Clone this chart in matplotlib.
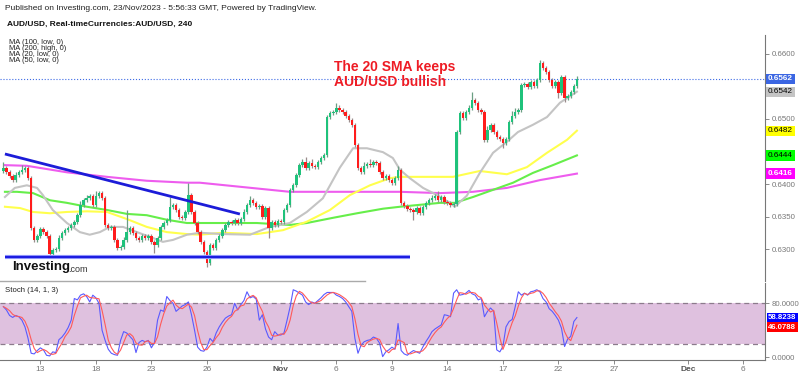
import numpy as np
import pandas as pd
import matplotlib
matplotlib.use("Agg")
import matplotlib.pyplot as plt
import matplotlib.transforms as mtransforms
from matplotlib.lines import Line2D

plt.rcParams['font.family'] = ['Liberation Sans', 'DejaVu Sans']

# AUD/USD 4h candles, Oct 11 -> Nov 23 2023, closes in pips (6425 = 0.6425)
first_open = 6420
closes = [
    6425, 6419, 6412, 6406, 6414, 6419,
    6422, 6425, 6409, 6332, 6314, 6320,
    6331, 6326, 6320, 6292, 6298, 6300,
    6317, 6325, 6329, 6332, 6337, 6342,
    6352, 6368, 6375, 6378, 6382, 6368,
    6382, 6386, 6378, 6337, 6332, 6334,
    6314, 6302, 6303, 6314, 6326, 6332,
    6325, 6317, 6314, 6320, 6317, 6320,
    6311, 6306, 6317, 6334, 6340, 6345,
    6365, 6368, 6360, 6349, 6348, 6357,
    6383, 6357, 6340, 6326, 6311, 6295,
    6278, 6306, 6302, 6314, 6320, 6329,
    6337, 6342, 6340, 6345, 6340, 6346,
    6357, 6368, 6375, 6371, 6365, 6366,
    6349, 6363, 6332, 6342, 6337, 6343,
    6342, 6360, 6368, 6391, 6398, 6414,
    6429, 6434, 6425, 6432, 6428, 6426,
    6434, 6440, 6445, 6503, 6509, 6511,
    6517, 6514, 6511, 6505, 6498, 6491,
    6460, 6425, 6418, 6428, 6431, 6429,
    6434, 6432, 6418, 6409, 6412, 6406,
    6402, 6409, 6422, 6371, 6366, 6362,
    6360, 6357, 6363, 6355, 6365, 6371,
    6375, 6378, 6382, 6375, 6380, 6372,
    6371, 6368, 6369, 6480, 6509, 6502,
    6511, 6517, 6529, 6525, 6514, 6511,
    6468, 6483, 6491, 6480, 6472, 6469,
    6463, 6469, 6495, 6505, 6511, 6514,
    6552, 6554, 6549, 6557, 6551, 6560,
    6586, 6578, 6572, 6560, 6551, 6557,
    6540, 6565, 6532, 6535, 6542, 6551,
    6562,
]
# wick lengths above / below the body, in pips
up_wick = [
    9, 3, 3, 3, 4, 3,
    8, 3, 3, 3, 3, 3,
    3, 3, 3, 3, 3, 3,
    4, 3, 3, 3, 3, 3,
    3, 6, 3, 5, 3, 3,
    8, 3, 3, 3, 3, 3,
    3, 3, 3, 4, 34, 3,
    3, 3, 3, 3, 3, 3,
    3, 3, 3, 3, 3, 3,
    15, 3, 3, 3, 3, 3,
    19, 3, 3, 3, 3, 3,
    3, 3, 3, 3, 3, 3,
    3, 3, 3, 3, 3, 3,
    4, 3, 6, 3, 3, 3,
    3, 3, 3, 3, 3, 3,
    3, 3, 3, 3, 3, 3,
    3, 5, 8, 3, 6, 3,
    3, 3, 3, 3, 3, 3,
    8, 5, 3, 3, 3, 3,
    3, 3, 3, 6, 3, 8,
    3, 3, 3, 3, 3, 3,
    3, 3, 6, 3, 3, 3,
    3, 3, 3, 3, 3, 3,
    3, 5, 3, 8, 3, 3,
    3, 3, 3, 3, 3, 3,
    3, 5, 13, 3, 3, 3,
    3, 6, 3, 3, 3, 3,
    3, 3, 3, 8, 6, 3,
    3, 3, 3, 3, 3, 3,
    5, 3, 3, 3, 3, 3,
    3, 3, 3, 3, 3, 3,
    4,
]
dn_wick = [
    3, 3, 3, 3, 3, 3,
    3, 3, 3, 3, 3, 3,
    3, 3, 3, 4, 3, 3,
    3, 3, 3, 3, 3, 3,
    3, 3, 3, 3, 3, 3,
    3, 3, 3, 3, 3, 3,
    3, 4, 3, 3, 3, 3,
    3, 3, 3, 3, 3, 3,
    3, 12, 3, 3, 3, 3,
    3, 3, 3, 3, 3, 3,
    3, 3, 3, 3, 3, 3,
    6, 3, 3, 3, 3, 3,
    3, 3, 3, 3, 3, 3,
    3, 3, 3, 3, 3, 3,
    3, 3, 15, 3, 3, 3,
    3, 3, 3, 3, 3, 3,
    3, 3, 3, 3, 3, 3,
    3, 3, 3, 3, 3, 3,
    3, 3, 3, 3, 3, 3,
    3, 3, 3, 3, 3, 3,
    3, 3, 3, 3, 3, 3,
    3, 3, 3, 3, 3, 3,
    3, 12, 3, 3, 3, 3,
    3, 3, 3, 3, 3, 3,
    3, 3, 3, 3, 3, 3,
    3, 3, 3, 3, 3, 3,
    3, 3, 3, 3, 3, 3,
    8, 3, 3, 3, 3, 3,
    3, 3, 3, 3, 3, 3,
    3, 3, 3, 3, 3, 3,
    8, 3, 6, 3, 3, 3,
    3,
]

# Stoch (14, 1, 3) %K
stoch_k = [
    75, 70, 62, 59, 62, 60,
    55, 45, 28, 6, 5, 10,
    14, 11, 3, 2, 8, 7,
    26, 30, 36, 44, 55, 87,
    85, 92, 94, 90, 82, 92,
    88, 80, 40, 25, 12, 6,
    4, 3, 25, 38, 36, 31,
    26, 7, 22, 25, 23, 25,
    14, 22, 55, 70, 68, 90,
    84, 80, 68, 72, 76, 78,
    82, 63, 40, 15, 10, 9,
    15, 28, 23, 36, 45, 52,
    58, 61, 63, 80, 70, 78,
    84, 97, 88, 90, 86, 55,
    63, 42, 30, 26, 38, 33,
    33, 36, 55, 75, 100, 98,
    95, 92, 82, 78, 82, 80,
    84, 88, 93, 96, 96, 96,
    92, 90, 87, 82, 75, 68,
    28, 6, 18, 23, 25, 26,
    30, 28, 21, 1, 8, 11,
    15, 12, 50, 10, 5, 3,
    7, 10, 8, 6, 15, 23,
    30, 38, 42, 45, 48, 63,
    62, 60, 95, 100, 92, 93,
    95, 99, 94, 92, 85, 87,
    60, 68, 73, 68, 11, 8,
    16, 45, 53, 56, 75, 97,
    92, 95, 92, 97, 98, 100,
    97, 87, 82, 72, 68, 62,
    55, 43, 16, 27, 31, 53,
    58.8238,
]
stoch_d_last = 46.0788

# moving averages (candle index, pips)
ma20_i = [0.5, 3.7, 7.6, 10.9, 12.8, 16, 20.6, 24.8, 28, 31.3, 34.5, 38.8, 43.3, 48.5, 51.7, 55, 59.5,
          63.7, 71.2, 80, 86.4, 92.9, 98.4, 103.6, 109.1, 113.4, 117.9, 123.1, 126.3, 128.6, 131.8,
          136.1, 140.6, 144.8, 146.4, 150.3, 154.5, 158.8, 163.3, 166.9, 171.7, 176.3, 180.5, 186]
ma20_p = [6380, 6394, 6398, 6394, 6383, 6360, 6340, 6326, 6322, 6326, 6334, 6334, 6326, 6317, 6311, 6314, 6322,
          6325, 6323, 6322, 6334, 6340, 6357, 6378, 6425, 6455, 6455, 6449, 6440, 6422, 6409,
          6394, 6383, 6371, 6365, 6382, 6417, 6448, 6465, 6480, 6491, 6503, 6525, 6542]
ma50_i = [0.5, 5.4, 9.6, 15.1, 20.6, 27.1, 33.6, 40.1, 46.5, 53, 59.5, 63.7, 71.2, 82.2, 90.7, 98.4,
          105.9, 112.4, 118.9, 125.4, 128.6, 141.6, 145.8, 154.5, 163.3, 169.8, 176.3, 182.8, 186]
ma50_p = [6365, 6363, 6357, 6355, 6357, 6358, 6357, 6346, 6334, 6326, 6323, 6322, 6325, 6323, 6329, 6342,
          6360, 6383, 6398, 6409, 6411, 6411, 6411, 6420, 6415, 6426, 6448, 6468, 6482]
ma100_i = [0.5, 4.4, 9.6, 15.1, 20.6, 27.1, 33.6, 40.1, 46.5, 53, 59.5, 63.7, 82.2, 92.9, 98.4, 106.9,
           114.7, 123.1, 128.6, 141.6, 146.4, 152.3, 158.8, 165.3, 171.7, 178.2, 186]
ma100_p = [6388, 6388, 6386, 6375, 6371, 6365, 6360, 6354, 6352, 6345, 6340, 6340, 6340, 6337, 6340, 6348,
           6355, 6362, 6365, 6371, 6371, 6380, 6391, 6402, 6417, 6429, 6444]
ma200_i = [0.5, 7.6, 20.6, 33.6, 46.5, 59.5, 63.7, 92.9, 109.1, 128.6, 141.6, 152.3, 163.3, 174, 186]
ma200_p = [6429, 6428, 6418, 6411, 6405, 6402, 6402, 6388, 6388, 6388, 6386, 6388, 6394, 6406, 6416]

trend_i = [0.5, 76.7]
trend_p = [0.64462, 0.63538]
support_i = [0.5, 131.9]
support_p = 0.62877
last_price = 0.6562

tick_pos = [12, 30, 48, 66, 90, 108, 126, 144, 162, 180, 198, 222, 240]
tick_lab = ['13', '18', '23', '26', 'Nov', '6', '9', '14', '17', '22', '27', 'Dec', '6']

W, H = 800, 376
fig = plt.figure(figsize=(8, 3.76), dpi=100)
fig.patch.set_facecolor('white')


def fx(x):
    return x / W


def fy(y):
    return 1 - y / H


ax = fig.add_axes([0, fy(281), fx(765), fy(35) - fy(281)])
ax2 = fig.add_axes([0, fy(360), fx(765), fy(283) - fy(360)], sharex=ax)

# candles
c = np.array(closes) / 10000
o = np.r_[first_open / 10000, c[:-1]]
hi = np.maximum(o, c) + np.array(up_wick) / 10000
lo = np.minimum(o, c) - np.array(dn_wick) / 10000
x = np.arange(len(c))
up = c >= o
ax.vlines(x, lo, hi, colors=np.where(up, '#6a9f83', '#9a8c8c'), lw=0.9, zorder=3)
ax.bar(x, np.maximum(np.abs(c - o), 0.00008), bottom=np.minimum(o, c), width=0.8,
       color=np.where(up, '#1fc27b', '#ff1c1c'), linewidth=0, zorder=4)

# moving averages
ax.plot(ma200_i, np.array(ma200_p) / 10000, color='#ee5cee', lw=1.5, zorder=2)
ax.plot(ma100_i, np.array(ma100_p) / 10000, color='#66ee4a', lw=1.5, zorder=2)
ax.plot(ma50_i, np.array(ma50_p) / 10000, color='#ffff4d', lw=1.5, zorder=2)
ax.plot(ma20_i, np.array(ma20_p) / 10000, color='#c4c4c4', lw=1.5, zorder=2)

# drawn lines
ax.plot(trend_i, trend_p, color='#1c1cd8', lw=2, zorder=5, solid_capstyle='butt')
ax.plot(support_i, [support_p] * 2, color='#9aa0ff', lw=3, zorder=5, solid_capstyle='butt')
ax.plot(support_i, [support_p] * 2, color='#1c1ce0', lw=1.6, zorder=5, solid_capstyle='butt')
ax.axhline(last_price, color='#3d6be6', ls=':', lw=0.8, zorder=1)

ax.set_xlim(-1.1, 247)
ax.set_ylim(0.62508, 0.66292)
ax.yaxis.tick_right()
yt = [0.6300, 0.6350, 0.6400, 0.6500, 0.6600]
ax.set_yticks(yt)
ax.set_yticklabels([f'{v:.4f}' for v in yt])
ax.tick_params(axis='y', labelsize=5.7, colors='#777777', length=3, width=0.6, pad=2)
ax.tick_params(axis='x', bottom=False, labelbottom=False)
for s in ['top', 'left', 'bottom']:
    ax.spines[s].set_visible(False)
ax.spines['right'].set_color('#777777')
ax.spines['right'].set_linewidth(0.8)

tr = mtransforms.blended_transform_factory(ax.transAxes, ax.transData)
for val, fc, tc in [(0.6562, '#3b66e3', 'white'), (0.6542, '#c4c4c4', 'black'),
                    (0.6482, '#ffff00', 'black'), (0.6444, '#00ff00', 'black'),
                    (0.6416, '#ff00ff', 'white')]:
    ax.text(1.004, val, f'{val:.4f}', transform=tr, fontsize=5.9, color=tc, va='center', ha='left',
            weight='bold' if tc == 'white' else 'normal',
            bbox=dict(boxstyle='square,pad=0.2', fc=fc, ec='none'), clip_on=False, zorder=10)

# stochastic pane
k = pd.Series(stoch_k, dtype=float)
d = k.rolling(3, min_periods=1).mean()
ax2.axhspan(20, 80, color='#dfc1df', lw=0, zorder=0)
for lvl in (20, 80):
    ax2.axhline(lvl, color='#8c7b8c', lw=0.9, ls=(0, (4, 3)), zorder=1)
ax2.plot(x, k, color='#5a5aff', lw=0.8, zorder=3)
ax2.plot(x, d, color='#ff5a5a', lw=0.8, zorder=3)
ax2.set_ylim(-4, 110)
ax2.yaxis.tick_right()
ax2.set_yticks([0, 80])
ax2.set_yticklabels(['0.0000', '80.0000'])
ax2.tick_params(axis='y', labelsize=5.6, colors='#777777', length=3, width=0.6, pad=2)
ax2.set_xticks(tick_pos)
ax2.set_xticklabels(tick_lab)
ax2.tick_params(axis='x', labelsize=6, colors='#777777', length=3, width=0.6, pad=1.5)
for lab in ax2.get_xticklabels():
    if lab.get_text() in ('Nov', 'Dec'):
        lab.set_fontweight('bold')
        lab.set_color('#555555')
for s in ['top', 'left']:
    ax2.spines[s].set_visible(False)
for s in ['right', 'bottom']:
    ax2.spines[s].set_color('#777777')
    ax2.spines[s].set_linewidth(0.8)

tr2 = mtransforms.blended_transform_factory(ax2.transAxes, ax2.transData)
ax2.text(1.004, k.iloc[-1], f'{k.iloc[-1]:.4f}', transform=tr2, fontsize=5.6, color='white', weight='bold',
         va='center', ha='left', bbox=dict(boxstyle='square,pad=0.2', fc='#0000ff', ec='none'),
         clip_on=False, zorder=10)
ax2.text(1.004, stoch_d_last - 1.5, f'{stoch_d_last:.4f}', transform=tr2, fontsize=5.6, color='white',
         weight='bold', va='center', ha='left',
         bbox=dict(boxstyle='square,pad=0.2', fc='#ff0000', ec='none'), clip_on=False, zorder=10)
ax2.text(0.007, 0.9, 'Stoch (14, 1, 3)', transform=ax2.transAxes, fontsize=5.6, color='#222222', va='center')

# header texts
fig.text(fx(5), fy(9), 'Published on Investing.com, 23/Nov/2023 - 5:56:33 GMT, Powered by TradingView.',
         fontsize=6, color='#222222', va='center')
fig.text(fx(7), fy(24), 'AUD/USD, Real-timeCurrencies:AUD/USD, 240', fontsize=6, weight='bold',
         color='#111111', va='center')
for j, t in enumerate(['MA (100, low, 0)', 'MA (200, high, 0)', 'MA (20, low, 0)', 'MA (50, low, 0)']):
    fig.text(fx(9), fy(43 + 6 * j), t, fontsize=5.4, color='#222222', va='center')

fig.text(fx(334), fy(67), 'The 20 SMA keeps', fontsize=10, weight='bold', color='#ee1c25', va='center')
fig.text(fx(334), fy(82), 'AUD/USD bullish', fontsize=10, weight='bold', color='#ee1c25', va='center')

fig.text(fx(12), fy(267), 'Investing', fontsize=9.5, weight='bold', color='#111111', va='center')
fig.text(fx(68.5), fy(269), '.com', fontsize=6.5, color='#333333', va='center')
fig.add_artist(Line2D([0, fx(365)], [fy(281), fy(281)], color='#aaaaaa', lw=1))

fig.savefig('out.png', dpi=100)
